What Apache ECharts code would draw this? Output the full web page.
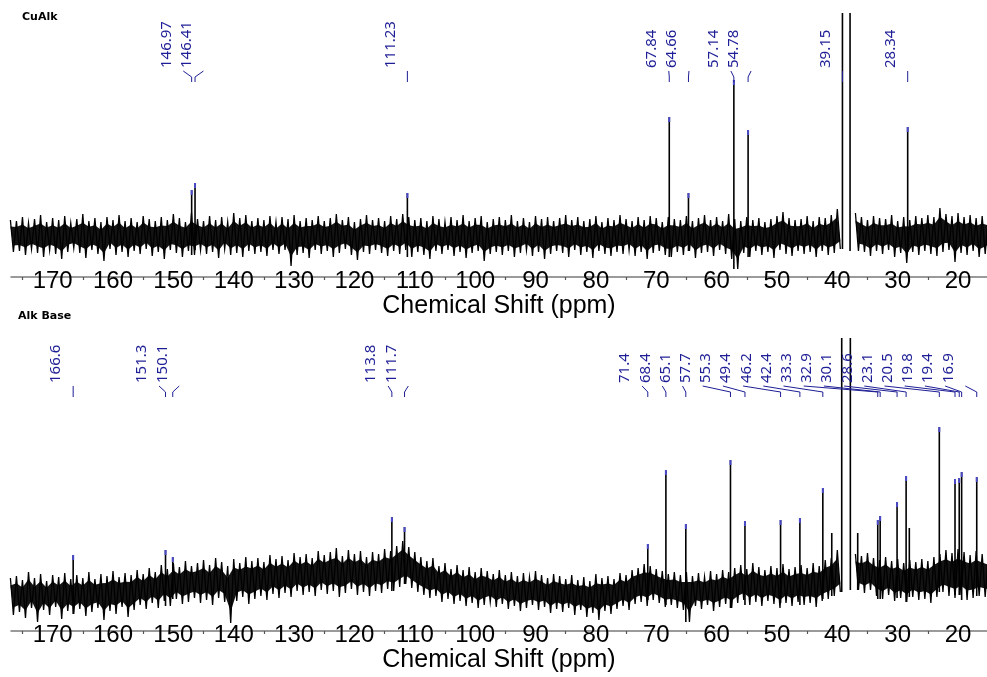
<!DOCTYPE html>
<html><head><meta charset="utf-8">
<script src="https://cdn.jsdelivr.net/npm/echarts@6/dist/echarts.min.js"></script>
<style>html,body{margin:0;padding:0;background:#fff}#c{width:987px;height:677px}</style>
</head><body><div id="c"></div>
<script>
// ---------- axis ----------
const xTickLabels = [170,160,150,140,130,120,110,100,90,80,70,60,50,40,30,20];
const xMinorTicks = [175,165,155,145,135,125,115,105,95,85,75,65,55,45,35,25];
const axisTitle = 'Chemical Shift (ppm)';
const panelTitles = ['CuAlk', 'Alk Base'];

// ---------- noise envelope: maxima sampled every 1 ppm from 177 down to 15,
// minima sampled on the same grid shifted by half a step ----------
const NOISE_START = 177;
const NOISE_STEP = 1;
const topNoiseHi = [17,
 16,20,14,18,22,15,19,17,21,14,
 18,23,16,19,15,20,17,22,16,19,
 15,21,18,16,20,17,23,19,15,24,
 18,16,21,17,20,15,24,19,22,16,
 19,17,21,15,20,18,22,16,19,17,
 21,16,19,23,17,20,15,18,22,17,
 19,16,21,18,23,20,17,19,16,21,
 18,15,20,17,22,16,19,21,15,18,
 20,17,22,16,19,15,21,18,20,16,
 19,22,17,20,16,18,21,15,19,17,
 22,18,16,20,17,21,19,15,20,18,
 17,21,16,19,22,17,20,16,23,18,
 16,20,17,19,15,18,21,25,19,17,
 18,21,16,20,19,22,28,null,null,24,
 20,17,21,19,18,22,16,20,17,21,
 19,22,20,29,23,21,24,20,22,19,
 21,18];
const topNoiseLo = [-15,
 -14,-18,-12,-16,-20,-13,-17,-22,-15,-11,
 -16,-21,-13,-17,-24,-12,-18,-15,-20,-14,
 -17,-12,-19,-15,-22,-13,-16,-20,-14,-18,
 -13,-17,-15,-21,-12,-18,-16,-20,-14,-17,
 -15,-19,-13,-17,-13,-29,-18,-16,-21,-13,
 -17,-14,-20,-16,-12,-18,-23,-15,-17,-13,
 -16,-19,-14,-17,-13,-20,-15,-18,-22,-14,
 -17,-13,-19,-15,-21,-16,-14,-24,-17,-15,
 -18,-14,-20,-16,-13,-19,-15,-22,-17,-14,
 -16,-20,-13,-18,-15,-21,-14,-17,-19,-15,
 -17,-13,-19,-15,-22,-16,-14,-18,-20,-15,
 -18,-14,-21,-16,-15,-19,-13,-17,-22,-32,
 -16,-20,-14,-18,-15,-21,-13,-17,-19,-14,
 -17,-15,-20,-14,-18,-16,-12,null,null,-14,
 -15,-19,-14,-17,-13,-20,-16,-26,-15,-18,
 -14,-17,-19,-15,-13,-25,-16,-18,-14,-20,
 -17,-13];
const bottomNoiseHi = [18,
 20,16,24,18,22,15,21,19,23,17,
 21,18,24,17,22,20,25,19,23,21,
 26,22,28,24,31,27,33,29,35,30,
 33,36,31,38,34,30,37,33,39,35,
 38,34,41,37,40,36,43,39,42,38,
 45,41,44,48,40,46,42,45,39,44,
 42,47,45,50,55,49,44,39,35,38,
 30,33,27,31,26,29,24,28,25,22,
 26,21,24,20,23,19,25,21,18,22,
 20,17,21,16,19,15,22,18,20,17,
 23,21,26,28,32,30,27,25,22,24,
 21,24,20,23,19,25,22,26,24,28,
 31,27,33,29,26,30,28,32,27,29,
 31,28,33,30,36,38,46,null,null,42,
 40,43,38,36,39,35,37,33,36,34,
 37,35,39,42,46,43,47,44,41,45,
 42,40];
const bottomNoiseLo = [-19,
 -16,-22,-12,-26,-14,-19,-11,-23,-15,-18,
 -13,-20,-16,-12,-24,-15,-18,-11,-21,-14,
 -9,-13,-7,-12,-5,-10,-3,-8,-6,-2,
 -7,-4,-9,-2,-6,-27,-5,-1,-8,-3,
 0,-4,2,-2,3,-1,5,1,4,0,
 6,2,5,-1,3,7,1,4,0,5,
 3,7,5,9,12,8,4,1,-2,0,
 -6,-3,-8,-5,-10,-7,-12,-9,-6,-11,
 -8,-13,-10,-15,-12,-9,-14,-11,-17,-13,
 -16,-12,-19,-14,-21,-17,-24,-15,-18,-13,
 -10,-14,-8,-6,-10,-4,-7,-11,-9,-12,
 -14,-26,-10,-13,-9,-15,-11,-8,-12,-7,
 -4,-9,-6,-10,-5,-8,-12,-7,-10,-6,
 -9,-7,-11,-5,-3,0,4,null,null,6,
 3,6,0,-3,1,-5,-2,-6,-1,-4,
 -3,-7,-1,4,0,-2,1,-4,-2,0,
 -1,-3];

// ---------- picked peaks (ppm, height, label) ----------
const topPeakPpm    = [146.97, 146.41, 111.23, 67.84, 64.66, 57.14, 54.78, 39.15, 28.34];
const topPeakHeight = [47, 54, 44, 120, 44, 157, 107, 224, 110];
const topPeakLabel  = ['146.97','146.41','111.23','67.84','64.66','57.14','54.78','39.15','28.34'];
const topOtherPpm    = [37.89];
const topOtherHeight = [224];

const bottomPeakPpm    = [166.6,151.3,150.1,113.8,111.7,71.4,68.4,65.1,57.7,55.3,49.4,46.2,42.4,33.3,32.9,30.1,28.6,23.1,20.5,19.8,19.4,16.9];
const bottomPeakHeight = [41,46,39,79,69,52,126,72,136,75,76,78,108,76,80,94,120,169,117,118,124,119];
const bottomPeakLabel  = ['166.6','151.3','150.1','113.8','111.7','71.4','68.4','65.1','57.7','55.3','49.4','46.2','42.4','33.3','32.9','30.1','28.6','23.1','20.5','19.8','19.4','16.9'];
const bottomOtherPpm    = [39.27, 37.84, 40.92, 36.62, 28.07];
const bottomOtherHeight = [258, 258, 63, 63, 68];

// ---------- checks ----------
[topNoiseHi, topNoiseLo, bottomNoiseHi, bottomNoiseLo].forEach((a, k) => {
  if (a.length !== 163) throw new Error('noise array ' + k + ' has length ' + a.length);
});

// ---------- style ----------
const BLUE = '#1e1e96';
const X_MIN = 15.2, X_MAX = 176.9;
const LABEL_SPACING = 20.2;
const CORE = 0.6;   // share of the envelope drawn as a dense core

const panels = [
  { grid: { left: 11, right: 0, top: 13, height: 264 }, yMin: -40, yMax: 224,
    hi: topNoiseHi, lo: topNoiseLo, peakPpm: topPeakPpm, peakH: topPeakHeight, labels: topPeakLabel,
    otherPpm: topOtherPpm, otherH: topOtherHeight, labelBottom: 55, title: panelTitles[0], titleX: 22, titleY: 12 },
  { grid: { left: 11, right: 0, top: 338, height: 293 }, yMin: -35, yMax: 258,
    hi: bottomNoiseHi, lo: bottomNoiseLo, peakPpm: bottomPeakPpm, peakH: bottomPeakHeight, labels: bottomPeakLabel,
    otherPpm: bottomOtherPpm, otherH: bottomOtherHeight, labelBottom: 45, title: panelTitles[1], titleX: 18, titleY: 311 }
];

const ppmAt = i => NOISE_START - i * NOISE_STEP;

function runsOf(hi) {
  const runs = []; let s = null;
  for (let i = 0; i < hi.length; i++) {
    if (hi[i] != null) { if (s === null) s = i; }
    else if (s !== null) { runs.push([s, i - 1]); s = null; }
  }
  if (s !== null) runs.push([s, hi.length - 1]);
  return runs;
}

function baseAt(lo, ppm) {
  let i = Math.round((NOISE_START - ppm) / NOISE_STEP);
  i = Math.max(0, Math.min(lo.length - 1, i));
  for (let d = 0; d < lo.length; d++) {
    if (i - d >= 0 && lo[i - d] != null) return lo[i - d];
    if (i + d < lo.length && lo[i + d] != null) return lo[i + d];
  }
  return 0;
}

function layoutLabels(desired, spacing, rightBound) {
  const stack = [];
  const start = c => c.sum / c.n - spacing * (c.n - 1) / 2;
  desired.forEach(d => {
    stack.push({ n: 1, sum: d });
    while (stack.length > 1) {
      const b = stack[stack.length - 1], a = stack[stack.length - 2];
      if (start(b) < start(a) + spacing * a.n) { a.n += b.n; a.sum += b.sum; stack.pop(); }
      else break;
    }
  });
  const out = [];
  stack.forEach(c => { const s = start(c); for (let k = 0; k < c.n; k++) out.push(s + k * spacing); });
  for (let i = out.length - 1; i >= 0; i--) {
    const lim = rightBound - (out.length - 1 - i) * spacing;
    if (out[i] > lim) out[i] = lim; else break;
  }
  return out;
}

const grids = [], xAxes = [], yAxes = [], series = [], graphics = [];
panels.forEach((p, gi) => {
  grids.push(p.grid);
  xAxes.push({
    gridIndex: gi, type: 'value', min: X_MIN, max: X_MAX, inverse: true,
    axisLine: { show: true, onZero: false, lineStyle: { color: '#7a7a7a', width: 1.5 } },
    axisTick: { show: true, customValues: xMinorTicks, length: 3, lineStyle: { color: '#555', width: 1.2 } },
    axisLabel: { customValues: xTickLabels, fontSize: 24, color: '#000', fontFamily: 'Liberation Sans', margin: -8 },
    splitLine: { show: false },
    name: axisTitle, nameLocation: 'middle', nameGap: 17,
    nameTextStyle: { fontSize: 25, color: '#000', fontFamily: 'Liberation Sans', verticalAlign: 'top' }
  });
  yAxes.push({ gridIndex: gi, type: 'value', min: p.yMin, max: p.yMax, show: false });

  const runs = runsOf(p.hi);
  series.push({
    type: 'custom', xAxisIndex: gi, yAxisIndex: gi, silent: true,
    data: runs.map(r => [ppmAt(r[0]), 0]),
    renderItem: (params, api) => {
      const [s, e] = runs[params.dataIndex];
      const trace = [], top = [], bot = [];
      for (let i = s; i <= e; i++) {
        const mid = (p.hi[i] + p.lo[i]) / 2;
        trace.push(api.coord([ppmAt(i), p.hi[i]]));
        trace.push(api.coord([ppmAt(i) - 0.5 * NOISE_STEP, p.lo[i]]));
        top.push(api.coord([ppmAt(i), mid + CORE * (p.hi[i] - mid)]));
        bot.unshift(api.coord([ppmAt(i) - 0.5 * NOISE_STEP, mid + CORE * (p.lo[i] - mid)]));
      }
      return { type: 'group', children: [
        { type: 'polygon', shape: { points: top.concat(bot) }, style: { fill: '#141414' } },
        { type: 'polyline', shape: { points: trace }, style: { stroke: '#000', lineWidth: 1.3, fill: null } }
      ] };
    }
  });

  const peakData = p.peakPpm.map((x, i) => [x, p.peakH[i], 1])
    .concat(p.otherPpm.map((x, i) => [x, p.otherH[i], 0]));
  series.push({
    type: 'custom', xAxisIndex: gi, yAxisIndex: gi, silent: true,
    data: peakData,
    renderItem: (params, api) => {
      const x = api.value(0), h = api.value(1), labeled = api.value(2);
      const p0 = api.coord([x, baseAt(p.lo, x)]);
      const p1 = api.coord([x, h]);
      const children = [{ type: 'line', shape: { x1: p0[0], y1: p0[1], x2: p1[0], y2: p1[1] }, style: { stroke: '#000', lineWidth: 1.6 } }];
      if (labeled && h < p.yMax) {
        children.push({ type: 'line', shape: { x1: p1[0], y1: p1[1], x2: p1[0], y2: p1[1] + 5 }, style: { stroke: '#4a4ac8', lineWidth: 2 } });
      }
      return { type: 'group', children };
    }
  });

  series.push({
    type: 'custom', xAxisIndex: gi, yAxisIndex: gi, silent: true,
    data: [[X_MAX, p.yMax]],
    renderItem: (params, api) => {
      const xs = p.peakPpm.map(v => api.coord([v, 0])[0]);
      const gridTop = api.coord([X_MIN, p.yMax])[1];
      const gridRight = api.coord([X_MIN, p.yMax])[0];
      const pos = layoutLabels(xs.map(v => v - 17), LABEL_SPACING, gridRight - 38.7);
      const yb = gridTop + p.labelBottom;
      const children = [];
      p.labels.forEach((t, i) => {
        children.push({ type: 'text', x: pos[i], y: yb, rotation: Math.PI / 2,
          style: { text: t, fill: BLUE, fontSize: 15, fontFamily: 'Noto Sans', align: 'left', verticalAlign: 'middle' } });
        children.push({ type: 'polyline', shape: { points: [[pos[i] + 17, yb + 3], [xs[i], yb + 9], [xs[i], yb + 14]] },
          style: { stroke: BLUE, lineWidth: 1, fill: null } });
      });
      return { type: 'group', children };
    }
  });

  graphics.push({ type: 'text', left: p.titleX, top: p.titleY,
    style: { text: p.title, fill: '#000', font: 'bold 11px "DejaVu Sans"' } });
});

const chart = echarts.init(document.getElementById('c'));
chart.setOption({
  animation: false,
  backgroundColor: '#fff',
  grid: grids, xAxis: xAxes, yAxis: yAxes, series, graphic: graphics
});
</script></body></html>
